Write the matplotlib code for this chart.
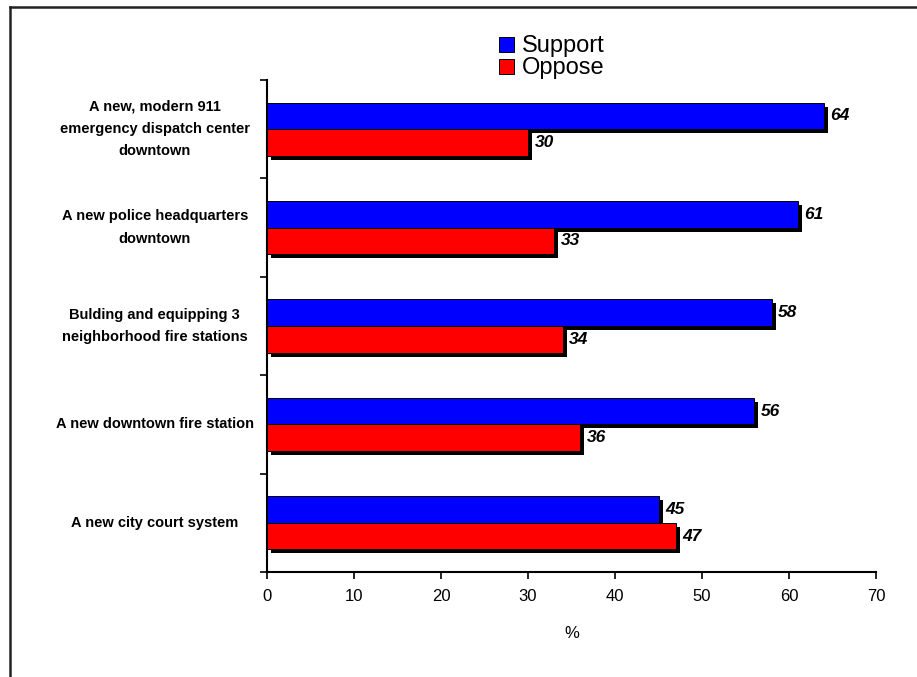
import matplotlib
matplotlib.use("Agg")
import matplotlib.pyplot as plt
import matplotlib.patheffects as pe
from matplotlib.lines import Line2D
import numpy as np

plt.rcParams['font.family'] = ['Liberation Sans', 'DejaVu Sans']

categories = [
    "A new, modern 911\nemergency dispatch center\ndowntown",
    "A new police headquarters\ndowntown",
    "Bulding and equipping 3\nneighborhood fire stations",
    "A new downtown fire station",
    "A new city court system",
]
support = [64, 61, 58, 56, 45]
oppose = [30, 33, 34, 36, 47]
xticks = [0, 10, 20, 30, 40, 50, 60, 70]

fig = plt.figure(figsize=(9.17, 6.77), dpi=100)
ax = fig.add_axes([267 / 917, 1 - 572 / 677, (876 - 267) / 917, (572 - 80) / 677])

n = len(categories)
y = np.arange(n)[::-1].astype(float)  # first category at the top
h = 0.27
shadow = [pe.SimplePatchShadow(offset=(2.9, -2.9), shadow_rgbFace='black', alpha=1.0), pe.Normal()]

b1 = ax.barh(y + h / 2, support, height=h, color='#0000ff', edgecolor='black', linewidth=0.7)
b2 = ax.barh(y - h / 2, oppose, height=h, color='#ff0000', edgecolor='black', linewidth=0.7)
for bars in (b1, b2):
    for p in bars:
        p.set_path_effects(shadow)

for yi, s, o in zip(y, support, oppose):
    ax.text(s + 0.75, yi + h / 2, str(s), va='center', ha='left', fontsize=12.5,
            fontweight='bold', fontstyle='italic')
    ax.text(o + 0.75, yi - h / 2, str(o), va='center', ha='left', fontsize=12.5,
            fontweight='bold', fontstyle='italic')

ax.set_xlim(0, 70)
ax.set_ylim(-0.5, n - 0.5)
ax.set_xticks(xticks)
ax.set_xticklabels([str(t) for t in xticks], fontsize=12)
ax.set_xlabel('%', fontsize=12, labelpad=16)

# boundary ticks between categories, labels centred on each group
ax.set_yticks(np.arange(-0.5, n, 1.0))
ax.set_yticklabels([])
ax.tick_params(axis='y', direction='out', length=5, width=1.2)
ax.tick_params(axis='x', direction='out', length=5, width=1.2, pad=7)
for yi, c in zip(y, categories):
    ax.text(-12.9, yi, c, ha='center', va='center', fontsize=10.5, fontweight='bold',
            linespacing=1.75, clip_on=False)

ax.spines['top'].set_visible(False)
ax.spines['right'].set_visible(False)
ax.spines['left'].set_linewidth(1.5)
ax.spines['bottom'].set_linewidth(1.5)

leg = fig.legend([b1, b2], ['Support', 'Oppose'], loc='upper left',
                 bbox_to_anchor=(490 / 917, 1 - 26 / 677), frameon=False,
                 fontsize=17, handlelength=0.6, handleheight=0.6,
                 handletextpad=0.35, labelspacing=0.0, borderaxespad=0)
for hdl in leg.legend_handles:
    hdl.set_path_effects([pe.Normal()])

# outer frame (top and left edges)
fig.add_artist(Line2D([10 / 917, 10 / 917], [0, 1 - 7 / 677], color='#222222', linewidth=1.8))
fig.add_artist(Line2D([10 / 917, 1], [1 - 7 / 677, 1 - 7 / 677], color='#222222', linewidth=1.8))

fig.savefig('out.png', dpi=100)
